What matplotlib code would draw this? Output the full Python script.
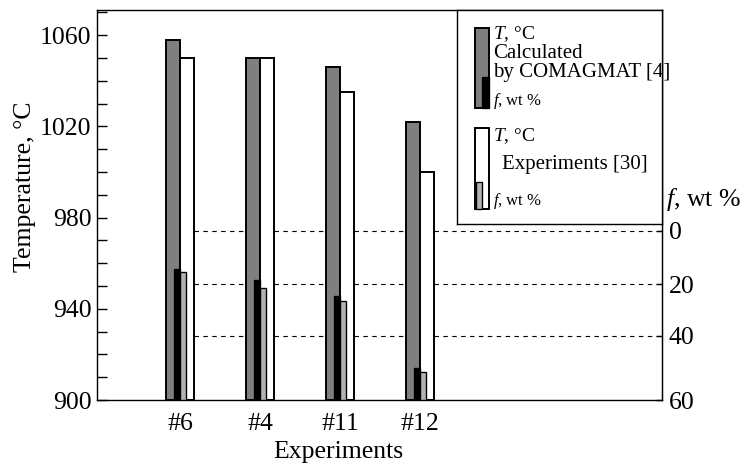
import numpy as np
import matplotlib
matplotlib.use('Agg')
import matplotlib.pyplot as plt
from matplotlib.patches import Rectangle
from matplotlib.ticker import MultipleLocator

plt.rcParams['font.family'] = ['Liberation Serif', 'DejaVu Serif']
plt.rcParams['mathtext.fontset'] = 'custom'
plt.rcParams['mathtext.rm'] = 'Liberation Serif'
plt.rcParams['mathtext.it'] = 'Liberation Serif:italic'

# data
experiments = ['#6', '#4', '#11', '#12']
T_calc = [1058, 1050, 1046, 1022]      # calculated by COMAGMAT, deg C
T_exp = [1050, 1050, 1035, 1000]       # experiments, deg C
f_calc = [14.3, 18.4, 24.5, 50.0]      # wt %
f_exp = [15.3, 21.3, 26.5, 51.3]       # wt %
T_ticks = [900, 940, 980, 1020, 1060]

# right-hand f axis as drawn (not quite linear in the original)
f_ticks = [0, 20, 40, 60]
f_tick_T = [974.2, 950.7, 928.1, 900]

f_pts = np.array([-100] + f_ticks, dtype=float)
T_pts = np.array([f_tick_T[0] + 100 * (f_tick_T[0] - f_tick_T[1]) / 20] + f_tick_T)


def f_to_T(f):
    return np.interp(f, f_pts, T_pts)


def T_to_f(T):
    return np.interp(T, T_pts[::-1], f_pts[::-1])


gray = '#7f7f7f'
lgray = '#b3b3b3'
lw = 1.4

fig = plt.figure(figsize=(7.44, 4.66), dpi=100)
ax = fig.add_axes([0.1304, 0.1416, 0.7594, 0.8369])

x = np.arange(len(experiments))
wT = 0.175
wf = 0.08
T0 = 900

ax.bar(x - wT / 2, np.array(T_calc) - T0, wT, bottom=T0, color=gray,
       edgecolor='black', linewidth=lw, zorder=2)
ax.bar(x + wT / 2, np.array(T_exp) - T0, wT, bottom=T0, color='white',
       edgecolor='black', linewidth=lw, zorder=2)
ax.bar(x - wf / 2, f_to_T(f_calc) - T0, wf, bottom=T0, color='black',
       edgecolor='black', linewidth=lw * 0.7, zorder=3)
ax.bar(x + wf / 2, f_to_T(f_exp) - T0, wf, bottom=T0, color=lgray,
       edgecolor='black', linewidth=lw * 0.7, zorder=3)

xmin, xmax = -1.0375, 6.025
ax.hlines(f_to_T(f_ticks[:-1]), wT, xmax, colors='black', linewidth=0.8,
          linestyles=(0, (4, 4)), zorder=1)

ax.set_xlim(xmin, xmax)
ax.set_ylim(900, 1071)
ax.set_xticks(x)
ax.set_xticklabels(experiments, fontsize=18.5)
ax.tick_params(axis='x', length=0, pad=9)
ax.set_yticks(T_ticks)
ax.yaxis.set_minor_locator(MultipleLocator(10))
ax.tick_params(axis='y', which='both', direction='in', length=7, width=1,
               labelsize=18.5, pad=4)
for s in ax.spines.values():
    s.set_linewidth(1.0)

ax.set_ylabel('Temperature, °C', fontsize=18.5)
ax.yaxis.set_label_coords(-0.108, 0.546)
ax.set_xlabel('Experiments', fontsize=18.5)
ax.xaxis.set_label_coords(0.427, -0.105)

sec = ax.secondary_yaxis('right', functions=(T_to_f, f_to_T))
sec.set_yticks(f_ticks)
sec.tick_params(direction='in', length=4, width=1, labelsize=18.5, pad=5)
ax.text(1.007, 0.513, '$f$, wt %', transform=ax.transAxes, fontsize=18.5,
        ha='left', va='center')

# legend box
lg = fig.add_axes([457 / 744, 1 - 224 / 466, 205 / 744, 214 / 466])
lg.set_xlim(0, 205)
lg.set_ylim(214, 0)
lg.set_xticks([])
lg.set_yticks([])
for s in lg.spines.values():
    s.set_linewidth(1.0)
lg.add_patch(Rectangle((18, 18), 14, 80, facecolor=gray, edgecolor='black', linewidth=lw))
lg.add_patch(Rectangle((25, 67), 7, 31, facecolor='black', edgecolor='black', linewidth=lw * 0.7))
lg.add_patch(Rectangle((18, 118), 14, 81, facecolor='white', edgecolor='black', linewidth=lw))
lg.add_patch(Rectangle((19, 172), 6, 27, facecolor=lgray, edgecolor='black', linewidth=lw * 0.7))
lg.text(36, 24, '$T$, °C', fontsize=14, va='center')
lg.text(36, 44, 'Calculated', fontsize=15, va='center')
lg.text(36, 63, 'by COMAGMAT [4]', fontsize=15, va='center')
lg.text(36, 91, '$f$, wt %', fontsize=12, va='center')
lg.text(36, 126, '$T$, °C', fontsize=14, va='center')
lg.text(45, 154, 'Experiments [30]', fontsize=15, va='center')
lg.text(36, 191, '$f$, wt %', fontsize=12, va='center')

fig.savefig('out.png', dpi=100)
